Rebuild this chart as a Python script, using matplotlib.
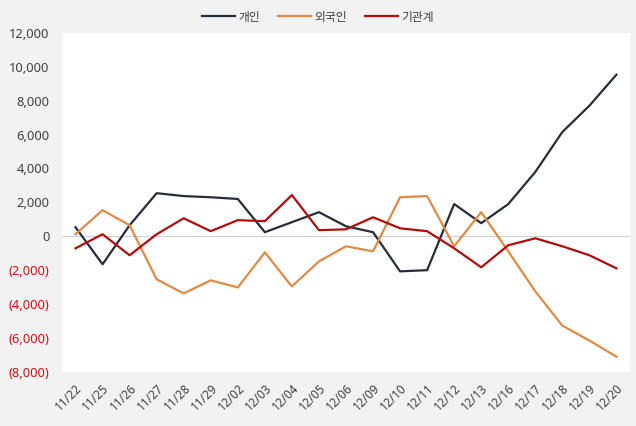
import matplotlib
matplotlib.use("Agg")
import matplotlib.pyplot as plt
from matplotlib.ticker import FuncFormatter

plt.rcParams['font.family'] = ['Noto Sans', 'Noto Sans CJK KR', 'DejaVu Sans']

dates = ["11/22", "11/25", "11/26", "11/27", "11/28", "11/29", "12/02", "12/03",
         "12/04", "12/05", "12/06", "12/09", "12/10", "12/11", "12/12", "12/13",
         "12/16", "12/17", "12/18", "12/19", "12/20"]
individual = [530, -1650, 650, 2540, 2370, 2300, 2200, 240, 830, 1420, 590, 240,
              -2070, -2000, 1900, 770, 1900, 3790, 6150, 7700, 9530]
foreign = [120, 1540, 650, -2540, -3370, -2600, -3020, -950, -2960, -1480, -590, -890,
           2300, 2370, -590, 1420, -890, -3250, -5270, -6150, -7100]
institution = [-710, 120, -1120, 120, 1060, 300, 950, 890, 2430, 360, 410, 1120,
               470, 300, -710, -1830, -530, -120, -590, -1120, -1890]

fig = plt.figure(figsize=(6.36, 4.26), dpi=100, facecolor='#f2f2f2')
ax = fig.add_axes([0.0975, 0.127, 0.893, 0.796])
ax.set_facecolor('white')

x = range(len(dates))
ax.plot(x, individual, color='#262d38', lw=1.6, label='개인')
ax.plot(x, foreign, color='#e08a45', lw=1.6, label='외국인')
ax.plot(x, institution, color='#b00d0d', lw=1.6, label='기관계')
ax.axhline(0, color='#d0d0d0', lw=0.8, zorder=0)

ax.set_xlim(-0.5, len(dates) - 0.5)
ax.set_ylim(-8000, 12000)
ax.set_yticks(range(-8000, 12001, 2000))

def fmt(v, pos):
    if v < 0:
        return f"({abs(int(v)):,})"
    return f"{int(v):,}"

ax.yaxis.set_major_formatter(FuncFormatter(fmt))
ax.set_xticks(list(x))
ax.set_xticklabels(dates, rotation=45, ha='right', rotation_mode='anchor')
ax.tick_params(axis='both', length=0, labelsize=8.5, colors='#404040')
ax.tick_params(axis='y', labelsize=9.3, pad=9)
ax.tick_params(axis='x', pad=7)
for lbl, v in zip(ax.get_yticklabels(), ax.get_yticks()):
    if v < 0:
        lbl.set_color('#d01010')

for s in ax.spines.values():
    s.set_visible(False)

fig.legend(loc='upper center', bbox_to_anchor=(0.5, 1.0), ncol=3, frameon=False,
           fontsize=8.5, handlelength=2.8, columnspacing=1.5, handletextpad=0.3)
for t in fig.legends[0].get_texts():
    t.set_color('#404040')

fig.savefig("out.png", dpi=100, facecolor=fig.get_facecolor())
